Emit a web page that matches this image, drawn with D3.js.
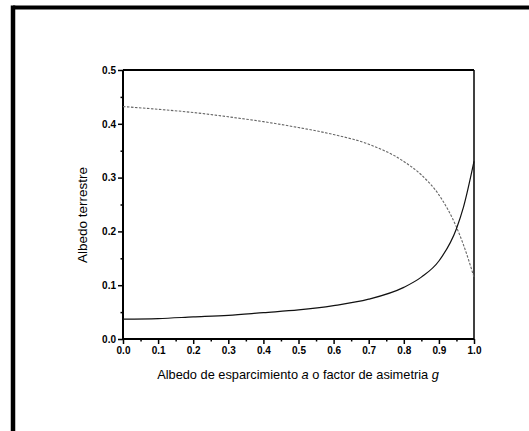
<!DOCTYPE html>
<html>
<head>
<meta charset="utf-8">
<script src="https://cdn.jsdelivr.net/npm/d3@7"></script>
<style>
  html, body { margin: 0; padding: 0; background: #fff; }
  svg { display: block; }
  .tick text { font-family: "Liberation Sans", Arial, sans-serif; font-weight: bold; font-size: 10px; fill: #000; }
  .lbl { font-family: "Liberation Sans", Arial, sans-serif; font-size: 12.8px; fill: #000; }
</style>
</head>
<body>
<svg id="chart" width="529" height="431"></svg>
<script>
// Albedo terrestre frente al albedo de esparcimiento (a) y al factor de asimetria (g)
const xValues = [0.0, 0.1, 0.2, 0.3, 0.4, 0.5, 0.6, 0.7, 0.8, 0.85, 0.9, 0.95, 0.97, 1.0];
const albedoVsG = [0.432, 0.427, 0.421, 0.413, 0.404, 0.393, 0.380, 0.362, 0.330, 0.305, 0.268, 0.208, 0.175, 0.115];
const albedoVsA = [0.037, 0.038, 0.041, 0.044, 0.049, 0.054, 0.062, 0.074, 0.096, 0.115, 0.145, 0.205, 0.245, 0.330];
const xTicks = [0.0, 0.1, 0.2, 0.3, 0.4, 0.5, 0.6, 0.7, 0.8, 0.9, 1.0];
const yTicks = [0.0, 0.1, 0.2, 0.3, 0.4, 0.5];

const svg = d3.select("#chart");

// page frame (top and left edges)
svg.append("line").attr("x1", 13).attr("x2", 529).attr("y1", 7.5).attr("y2", 7.5)
  .attr("stroke", "#000").attr("stroke-width", 4);
svg.append("line").attr("x1", 13).attr("x2", 13).attr("y1", 5.5).attr("y2", 431)
  .attr("stroke", "#000").attr("stroke-width", 4.5);

const plot = { left: 123, right: 474, top: 70, bottom: 339 };
const x = d3.scaleLinear().domain([0, 1]).range([plot.left, plot.right]);
const y = d3.scaleLinear().domain([0, 0.5]).range([plot.bottom, plot.top]);

// minor ticks
const xMinor = d3.range(0.05, 1, 0.1);
const yMinor = d3.range(0.05, 0.5, 0.1);
svg.append("g").attr("transform", `translate(0,${plot.bottom})`)
  .call(d3.axisBottom(x).tickValues(xMinor).tickSize(2.5).tickFormat(""))
  .call(g => g.select(".domain").remove())
  .call(g => g.selectAll("line").attr("stroke-width", 1.5));
svg.append("g").attr("transform", `translate(${plot.left},0)`)
  .call(d3.axisLeft(y).tickValues(yMinor).tickSize(2.5).tickFormat(""))
  .call(g => g.select(".domain").remove())
  .call(g => g.selectAll("line").attr("stroke-width", 1.5));

// major axes
svg.append("g").attr("transform", `translate(0,${plot.bottom})`)
  .call(d3.axisBottom(x).tickValues(xTicks).tickSize(5).tickPadding(3).tickFormat(d3.format(".1f")))
  .call(g => g.select(".domain").attr("stroke-width", 2).attr("d", `M${plot.left},0H${plot.right}`))
  .call(g => g.selectAll(".tick line").attr("stroke-width", 1.5));
svg.append("g").attr("transform", `translate(${plot.left},0)`)
  .call(d3.axisLeft(y).tickValues(yTicks).tickSize(5).tickPadding(2).tickFormat(d3.format(".1f")))
  .call(g => g.select(".domain").attr("stroke-width", 2).attr("d", `M0,${plot.top}V${plot.bottom}`))
  .call(g => g.selectAll(".tick line").attr("stroke-width", 1.5));

// top and right box edges
svg.append("line").attr("x1", plot.left).attr("x2", plot.right).attr("y1", plot.top).attr("y2", plot.top)
  .attr("stroke", "#000").attr("stroke-width", 2);
svg.append("line").attr("x1", plot.right).attr("x2", plot.right).attr("y1", plot.top).attr("y2", plot.bottom)
  .attr("stroke", "#000").attr("stroke-width", 1.5);

// curves
const line = vals => d3.line().x((d, i) => x(xValues[i])).y(d => y(d)).curve(d3.curveMonotoneX)(vals);
svg.append("path").attr("d", line(albedoVsG)).attr("fill", "none")
  .attr("stroke", "#666").attr("stroke-width", 1.1).attr("stroke-dasharray", "2.5 1.5");
svg.append("path").attr("d", line(albedoVsA)).attr("fill", "none")
  .attr("stroke", "#111").attr("stroke-width", 1.2);

// axis titles
const xt = svg.append("text").attr("class", "lbl").attr("text-anchor", "middle")
  .attr("x", 298).attr("y", 379);
xt.append("tspan").text("Albedo de esparcimiento ");
xt.append("tspan").attr("font-style", "italic").text("a");
xt.append("tspan").text(" o factor de asimetria ");
xt.append("tspan").attr("font-style", "italic").text("g");

svg.append("text").attr("class", "lbl").attr("text-anchor", "middle")
  .style("font-size", "13.5px")
  .attr("transform", `translate(87,215) rotate(-90)`)
  .text("Albedo terrestre");
</script>
</body>
</html>
